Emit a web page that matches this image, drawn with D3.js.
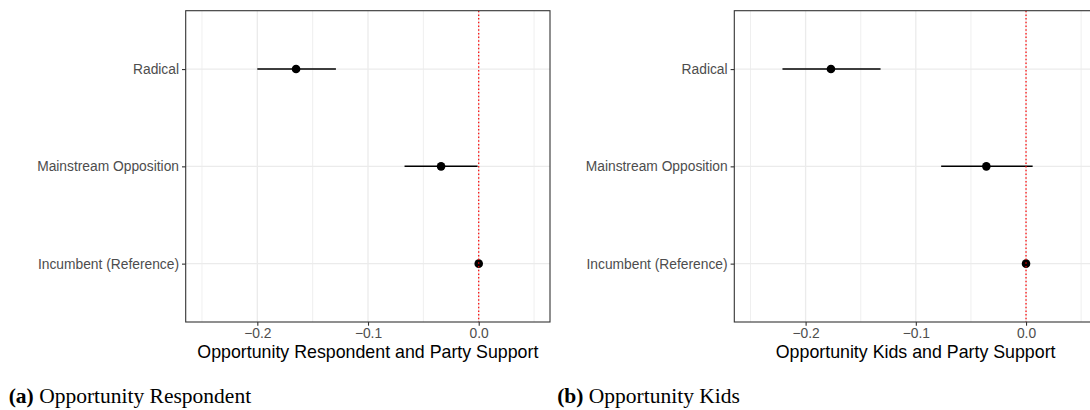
<!DOCTYPE html>
<html>
<head>
<meta charset="utf-8">
<script src="https://cdn.jsdelivr.net/npm/d3@7"></script>
<style>
  body { margin: 0; background: #fff; }
</style>
</head>
<body>
<div id="chart-area"></div>
<script>
(function () {
  // Data
  const categories = ["Radical", "Mainstream Opposition", "Incumbent (Reference)"];
  const respEst = [-0.165, -0.034, 0];
  const respLow = [-0.2, -0.067, 0];
  const respHigh = [-0.129, -0.001, 0];
  const kidsEst = [-0.177, -0.036, 0];
  const kidsLow = [-0.221, -0.077, 0];
  const kidsHigh = [-0.132, 0.006, 0];
  const majorTicks = [-0.2, -0.1, 0.0];
  const minorTicks = [-0.25, -0.15, -0.05, 0.05];
  const xDomain = [-0.2647, 0.0644];

  const panels = [
    {
      est: respEst, low: respLow, high: respHigh,
      left: 185.7, right: 550,
      title: "Opportunity Respondent and Party Support",
      capTag: "(a)", caption: " Opportunity Respondent", capX: 8.7
    },
    {
      est: kidsEst, low: kidsLow, high: kidsHigh,
      left: 734.3, right: 1097,
      title: "Opportunity Kids and Party Support",
      capTag: "(b)", caption: " Opportunity Kids", capX: 557.2
    }
  ];

  const W = 1090, H = 410;
  const top = 10.7, bottom = 322;

  const svg = d3.select("#chart-area")
    .append("svg")
    .attr("width", W)
    .attr("height", H)
    .style("font-family", "'Liberation Sans', Arial, sans-serif");

  svg.append("rect").attr("width", W).attr("height", H).attr("fill", "#fff");

  panels.forEach((p, k) => {
    const x = d3.scaleLinear().domain(xDomain).range([p.left, p.right]);
    const y = d3.scalePoint().domain(categories).range([top, bottom]).padding(0.6);

    const g = svg.append("g");

    // clip so the right panel runs off the edge like the original
    const clipId = "clip" + k;
    svg.append("clipPath").attr("id", clipId)
      .append("rect")
      .attr("x", p.left).attr("y", top)
      .attr("width", p.right - p.left).attr("height", bottom - top);

    const panel = g.append("g").attr("clip-path", `url(#${clipId})`);

    // minor grid
    panel.selectAll(".minor")
      .data(minorTicks)
      .enter().append("line")
      .attr("x1", (d) => x(d)).attr("x2", (d) => x(d))
      .attr("y1", top).attr("y2", bottom)
      .attr("stroke", "#EBEBEB").attr("stroke-width", 0.8);

    // major grid
    panel.selectAll(".major")
      .data(majorTicks)
      .enter().append("line")
      .attr("x1", (d) => x(d)).attr("x2", (d) => x(d))
      .attr("y1", top).attr("y2", bottom)
      .attr("stroke", "#EBEBEB").attr("stroke-width", 1.3);

    panel.selectAll(".hgrid")
      .data(categories)
      .enter().append("line")
      .attr("x1", p.left).attr("x2", p.right)
      .attr("y1", (d) => y(d)).attr("y2", (d) => y(d))
      .attr("stroke", "#EBEBEB").attr("stroke-width", 1.3);

    // error bars
    panel.selectAll(".ci")
      .data(categories)
      .enter().append("line")
      .attr("x1", (d, i) => x(p.low[i])).attr("x2", (d, i) => x(p.high[i]))
      .attr("y1", (d) => y(d)).attr("y2", (d) => y(d))
      .attr("stroke", "#000").attr("stroke-width", 1.5);

    // points
    panel.selectAll(".pt")
      .data(categories)
      .enter().append("circle")
      .attr("cx", (d, i) => x(p.est[i]))
      .attr("cy", (d) => y(d))
      .attr("r", 4.3)
      .attr("fill", "#000");

    // reference line at zero
    panel.append("line")
      .attr("x1", x(0)).attr("x2", x(0))
      .attr("y1", top).attr("y2", bottom)
      .attr("stroke", "red").attr("stroke-width", 1.2)
      .attr("stroke-dasharray", "1.5,2.2");

    // frame
    g.append("rect")
      .attr("x", p.left).attr("y", top)
      .attr("width", p.right - p.left).attr("height", bottom - top)
      .attr("fill", "none").attr("stroke", "#333").attr("stroke-width", 1.1);

    // x axis
    const xAxis = g.append("g")
      .attr("transform", `translate(0,${bottom})`)
      .call(d3.axisBottom(x).tickValues(majorTicks).tickFormat(d3.format(".1f"))
        .tickSize(3.7).tickPadding(3));
    xAxis.select(".domain").remove();
    xAxis.selectAll("line").attr("stroke", "#333").attr("stroke-width", 1.1);
    xAxis.selectAll("text")
      .attr("fill", "#4D4D4D").style("font-size", "13.8px")
      .style("font-family", "'Liberation Sans', Arial, sans-serif");

    // y axis
    const yAxis = g.append("g")
      .attr("transform", `translate(${p.left},0)`)
      .call(d3.axisLeft(y).tickSize(3.7).tickPadding(3));
    yAxis.select(".domain").remove();
    yAxis.selectAll("line").attr("stroke", "#333").attr("stroke-width", 1.1);
    yAxis.selectAll("text")
      .attr("fill", "#4D4D4D").style("font-size", "13.8px")
      .style("font-family", "'Liberation Sans', Arial, sans-serif");

    // axis title, centred on the panel
    svg.append("text")
      .attr("x", (p.left + p.right) / 2).attr("y", 358)
      .attr("text-anchor", "middle")
      .attr("fill", "#000")
      .style("font-size", "17.8px")
      .text(p.title);

    // sub-figure caption
    const cap = svg.append("text")
      .attr("x", p.capX).attr("y", 402.5)
      .attr("fill", "#000")
      .style("font-family", "'Liberation Serif', 'Times New Roman', serif")
      .style("font-size", "21.5px");
    cap.append("tspan").style("font-weight", "bold").text(p.capTag);
    cap.append("tspan").text(p.caption);
  });
})();
</script>
</body>
</html>
